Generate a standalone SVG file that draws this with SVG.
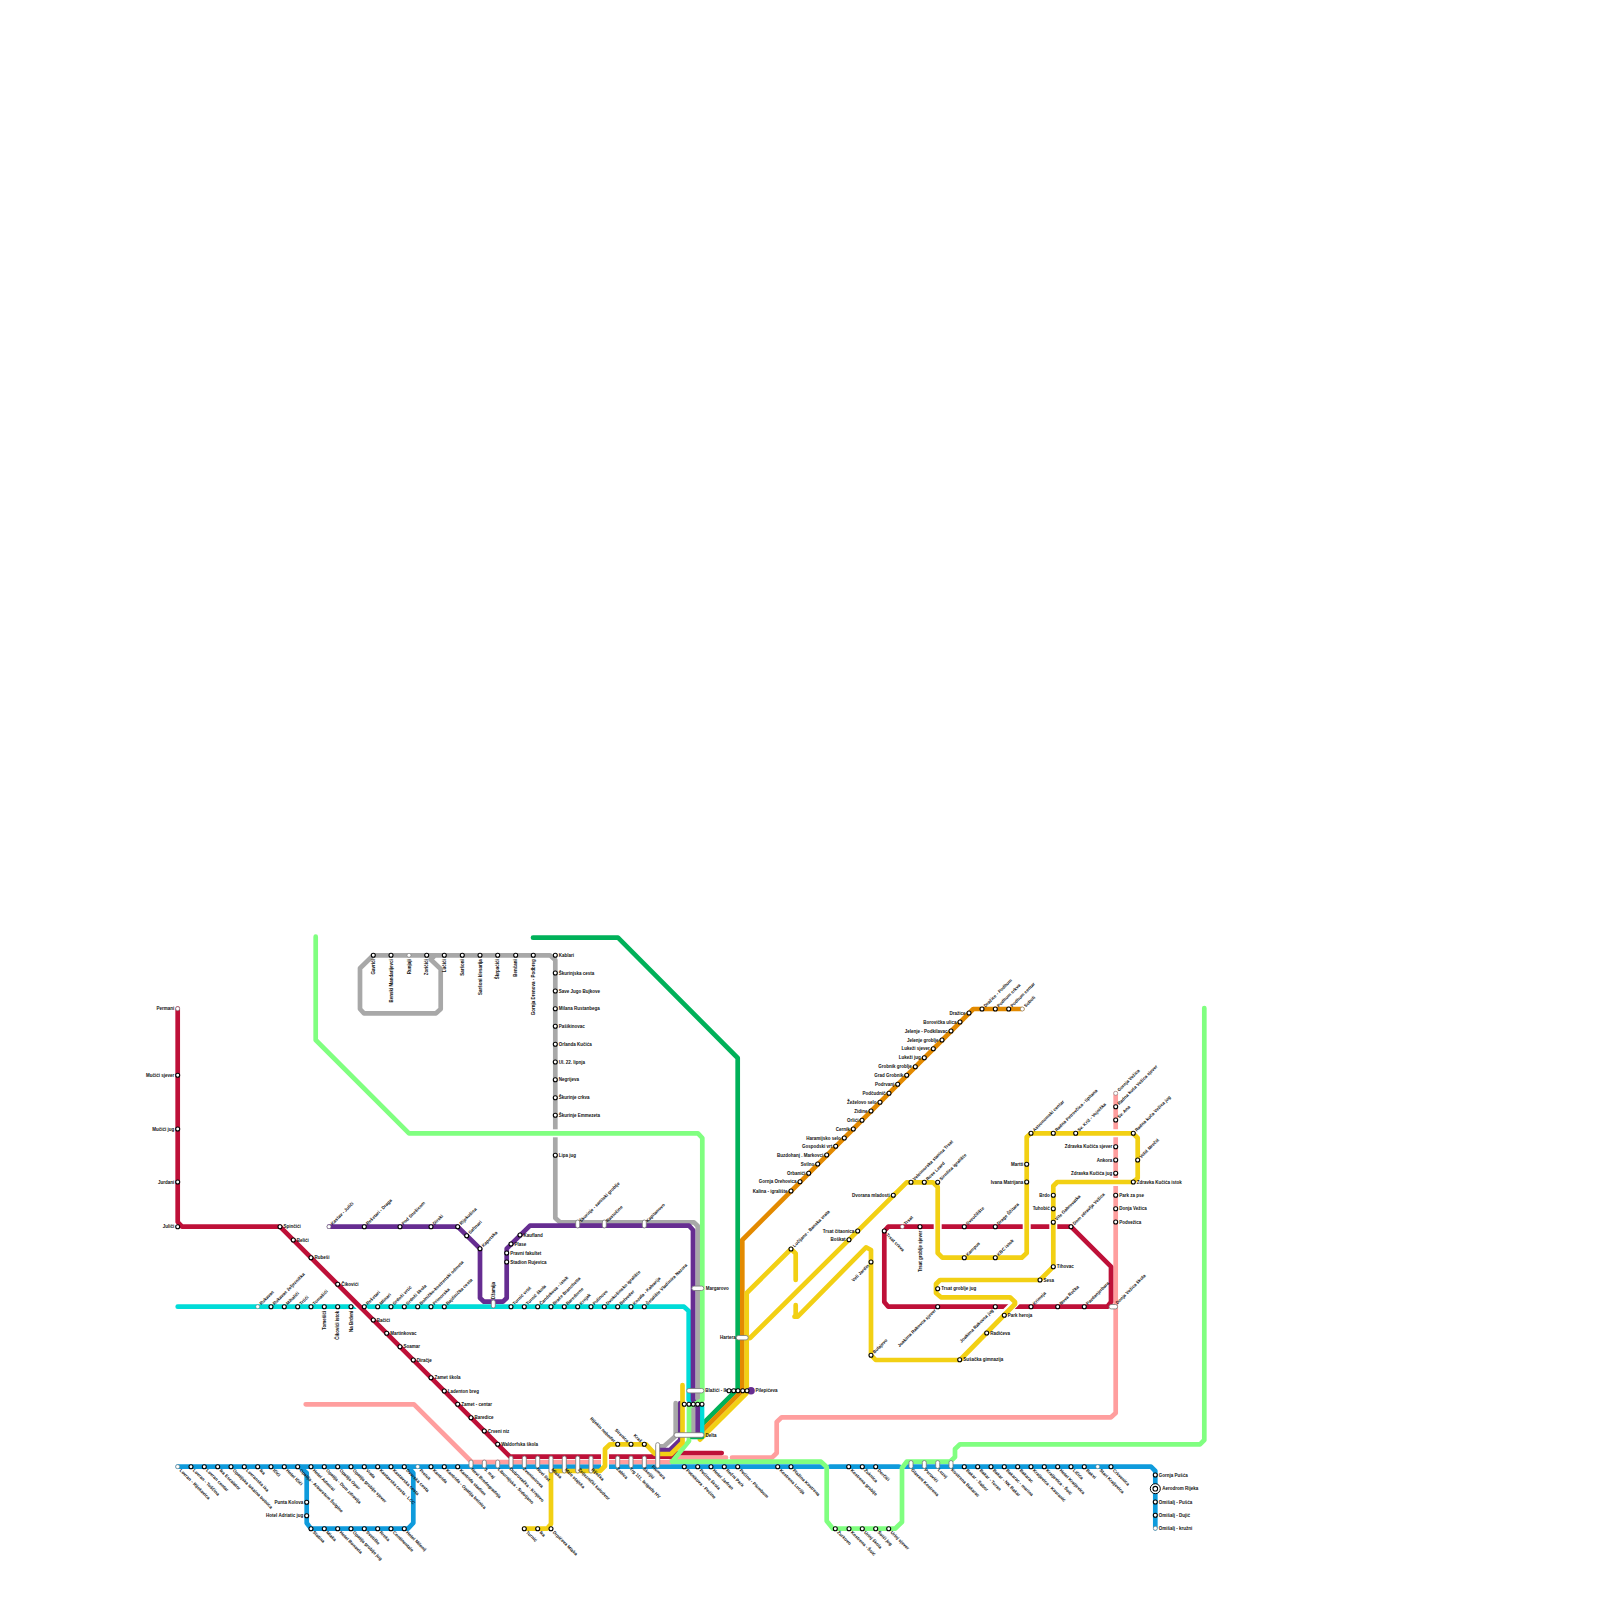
<svg xmlns="http://www.w3.org/2000/svg" width="1600" height="1600" viewBox="0 0 1600 1600">
<style>
text{font-family:"Liberation Sans",Arial,sans-serif;font-size:4.5px;font-weight:700;fill:#111}
.ln{fill:none;stroke-width:4.7;stroke-linejoin:round;stroke-linecap:round}
.h{fill:none;stroke:#fff;stroke-width:8}
.red{stroke:#BE1038}.cy{stroke:#00DCD8}.li{stroke:#80FF80}.gr{stroke:#A8A8A8}.pu{stroke:#662D91}.or{stroke:#E38A00}.ye{stroke:#F2D014}.bl{stroke:#0F9BDC}.pk{stroke:#FF9E9E}.gn{stroke:#00B159}
.s{fill:#fff;stroke:#000;stroke-width:1.1}
.w{fill:#fff;stroke:#666;stroke-width:.5}
.p{fill:#fff;stroke:#777;stroke-width:.8}
.ur{transform:translate(3.5px,-1.5px) rotate(-45deg)}
.dr{transform:translate(1.5px,4px) rotate(45deg)}
.ul{text-anchor:end;transform:translate(-4px,-1.5px) rotate(45deg)}
.dl{text-anchor:end;transform:translate(-1.5px,4px) rotate(-45deg)}
.r{transform:translate(3.5px,1.7px)}
.l{text-anchor:end;transform:translate(-3.5px,1.7px)}
.b{text-anchor:end;transform:translate(1.7px,4px) rotate(-90deg)}
.a{transform:translate(1.7px,-5px) rotate(-90deg)}
</style>
<g id="connectors">
<path class="ln gn" d="M533 937.7H618L737.7 1058V1389L700 1426.7"/>
<path class="ln or" d="M1022.3 1009H973.3L742.3 1240V1390.7L700 1433"/>
<path class="ln ye" d="M795.7 1280V1253.5L791 1249L746.7 1293V1393L700 1439.7"/>
<path class="ln bl" d="M177.7 1466.7H823M830 1466.7H899M905 1466.7H1151L1155.3 1471V1528.3"/>
<path class="ln bl" d="M300 1466.7L306.7 1473V1523L311 1528.7H408L413.3 1523V1473L408 1466.7"/>
<path class="ln pk" d="M305.7 1404.3H414L471.7 1462H670L676 1457.7H726M732 1457.7H772L776.7 1453V1422L781.7 1417.3H1111L1115.7 1413V1093.3"/>
<path class="ln cy" d="M177.7 1306.7H684L688.7 1311V1400L702 1407V1435"/>
<path class="ln gr" d="M435 955.3H373.3L360 968.3V1009L364 1013.3H436L440.7 1009V969L430.7 959.5L435 955.3H550L555.3 960V1218L560 1222.3H694L697.7 1226V1400L693.3 1407V1435"/>
<path class="ln gr" d="M658 1446.3H664L675.7 1436V1403"/>
<path class="ln pu" d="M329 1226.7H457.7L480 1248.7V1298L484 1301.7H503L506.7 1298V1248.7L530 1225.7H689L693 1230V1400L697.7 1407V1435"/>
<path class="ln pu" d="M658 1450H670L680.3 1440V1403"/>
<path class="h" d="M352 1298.7L366 1312.7"/>
<path class="ln red" d="M177.7 1008.7V1222L182 1226.7H280L510 1456.7H672L677 1453H721.7"/>
<path class="ln red" d="M1071 1226.7H888.3L884.3 1231V1302L888.3 1306.7H1107.3L1111 1302V1266.7L1071 1226.7"/>
<path class="h" d="M550 1133.3H561"/>
<path class="ln li" d="M315.7 936.7V1040L409 1133.3H698L702.3 1138V1400L689 1407V1441L672 1461.7H821L826.7 1467V1521L833 1528.7H895L902 1522V1468L906.7 1461.7H950L955 1457V1449L960 1444.3H1200L1204.3 1440V1008"/>
<path class="ln gn" d="M692 1437H702"/>
<path class="h" d="M605 1452V1473M937.7 1221V1232M1026.7 1221V1232M1053.3 1221V1232M1018 1300L1005 1313M1110 1133.3H1121M1110 1182H1121"/>
<path class="ln ye" d="M524.3 1528.7H547L551 1524V1471H600L605 1466V1449L610 1444.3H646L655 1454H671L682.5 1442.5V1385"/>
<path class="ln ye" d="M750 1338L906.7 1182.3H933L937.7 1187V1253L942.3 1257.7H1021.7L1026.7 1253V1137L1031 1133.3H1133L1137.7 1138V1178L1133.3 1182H1057.3L1053.3 1186V1266.7L1040 1280H940L936 1284V1293L941 1297.3H1010L1015 1302V1304L960 1360H875.7L871 1355V1250L866 1247.3L797.7 1316.7H794.5L795.7 1315V1305"/>
</g>
<g id="n0" transform="translate(751 1390.7)"><circle r="3.8" fill="#662D91"/><text class="r" x="1">Pilepićeva</text></g>
<g id="n1" transform="translate(177.7 1008.7)"><circle class="w" r="2"/><text class="l">Permani</text></g>
<g id="n2" transform="translate(177.7 1075.3)"><circle class="s" r="2"/><text class="l">Mučići sjever</text></g>
<g id="n3" transform="translate(177.7 1129)"><circle class="s" r="2"/><text class="l">Mučići jug</text></g>
<g id="n4" transform="translate(177.7 1182)"><circle class="s" r="2"/><text class="l">Jurdani</text></g>
<g id="n5" transform="translate(177.7 1226.7)"><circle class="s" r="2"/><text class="l">Juliči</text></g>
<g id="n6" transform="translate(280 1226.7)"><circle class="s" r="2"/><text class="r">Spinčići</text></g>
<g id="n7" transform="translate(293.3 1240)"><circle class="s" r="2"/><text class="r">Belići</text></g>
<g id="n8" transform="translate(311 1257.7)"><circle class="s" r="2"/><text class="r">Rubeši</text></g>
<g id="n9" transform="translate(337.7 1284.3)"><circle class="s" r="2"/><text class="r">Čikovići</text></g>
<g id="n10" transform="translate(373.3 1320)"><circle class="s" r="2"/><text class="r">Bačići</text></g>
<g id="n11" transform="translate(386.7 1333.3)"><circle class="s" r="2"/><text class="r">Martinkovac</text></g>
<g id="n12" transform="translate(400 1346.7)"><circle class="s" r="2"/><text class="r">Soamar</text></g>
<g id="n13" transform="translate(413.3 1360)"><circle class="s" r="2"/><text class="r">Diračje</text></g>
<g id="n14" transform="translate(431 1377.7)"><circle class="s" r="2"/><text class="r">Zamet škola</text></g>
<g id="n15" transform="translate(444.3 1391)"><circle class="s" r="2"/><text class="r">Ladenton breg</text></g>
<g id="n16" transform="translate(457.7 1404.3)"><circle class="s" r="2"/><text class="r">Zamet - centar</text></g>
<g id="n17" transform="translate(471 1417.7)"><circle class="s" r="2"/><text class="r">Baredice</text></g>
<g id="n18" transform="translate(484.3 1431)"><circle class="s" r="2"/><text class="r">Crveni niz</text></g>
<g id="n19" transform="translate(497.7 1444.3)"><circle class="s" r="2"/><text class="r">Waldorfska škola</text></g>
<g id="n20" transform="translate(329 1226.7)"><circle class="w" r="2"/><text class="ur">Kastav - Juliči</text></g>
<g id="n21" transform="translate(364.3 1226.7)"><circle class="s" r="2"/><text class="ur">Rešetari - Draga</text></g>
<g id="n22" transform="translate(400 1226.7)"><circle class="s" r="2"/><text class="ur">Pod Snešicom</text></g>
<g id="n23" transform="translate(431 1226.7)"><circle class="s" r="2"/><text class="ur">Dirski</text></g>
<g id="n24" transform="translate(457.7 1226.7)"><circle class="s" r="2"/><text class="ur">Rijekušica</text></g>
<g id="n25" transform="translate(466.7 1235.7)"><circle class="s" r="2"/><text class="ur">Saftnari</text></g>
<g id="n26" transform="translate(480 1248.7)"><circle class="s" r="2"/><text class="ur">Kapetska</text></g>
<g id="n27" transform="translate(520 1235)"><circle class="s" r="2"/><text class="r">Kaufland</text></g>
<g id="n28" transform="translate(511 1244)"><circle class="s" r="2"/><text class="r">Plase</text></g>
<g id="n29" transform="translate(506.7 1253)"><circle class="s" r="2"/><text class="r">Pravni fakultet</text></g>
<g id="n30" transform="translate(506.7 1262)"><circle class="s" r="2"/><text class="r">Stadion Rujevica</text></g>
<g id="n31" transform="translate(493.3 1304)"><rect class="p" x="-2" y="-4" width="4" height="8" rx="2"/><text class="a">Džamija</text></g>
<g id="n32" transform="translate(257.7 1306.7)"><circle class="w" r="2"/><text class="ur">Rukavac</text></g>
<g id="n33" transform="translate(271 1306.7)"><circle class="s" r="2"/><text class="ur">Rukavac željeznička</text></g>
<g id="n34" transform="translate(284.3 1306.7)"><circle class="s" r="2"/><text class="ur">Mihalići</text></g>
<g id="n35" transform="translate(297.7 1306.7)"><circle class="s" r="2"/><text class="ur">Trtići</text></g>
<g id="n36" transform="translate(311 1306.7)"><circle class="s" r="2"/><text class="ur">Tomašići</text></g>
<g id="n37" transform="translate(324.3 1306.7)"><circle class="s" r="2"/><text class="b">Tomešići</text></g>
<g id="n38" transform="translate(337.7 1306.7)"><circle class="s" r="2"/><text class="b">Čikovići istok</text></g>
<g id="n39" transform="translate(351 1306.7)"><circle class="s" r="2"/><text class="b">Na Brdeni</text></g>
<g id="n40" transform="translate(364.3 1306.7)"><circle class="s" r="2"/><text class="ur">Rešetari</text></g>
<g id="n41" transform="translate(377.7 1306.7)"><circle class="s" r="2"/><text class="ur">Mlinari</text></g>
<g id="n42" transform="translate(391 1306.7)"><circle class="s" r="2"/><text class="ur">Srdoči vrtić</text></g>
<g id="n43" transform="translate(404.3 1306.7)"><circle class="s" r="2"/><text class="ur">Srdoči škola</text></g>
<g id="n44" transform="translate(417.7 1306.7)"><circle class="s" r="2"/><text class="ur">Bolničko-kostrenski odmeta</text></g>
<g id="n45" transform="translate(431 1306.7)"><circle class="s" r="2"/><text class="ur">Primorska</text></g>
<g id="n46" transform="translate(444.3 1306.7)"><circle class="s" r="2"/><text class="ur">Bajdinička cesta</text></g>
<g id="n47" transform="translate(511 1306.7)"><circle class="s" r="2"/><text class="ur">Turnić vrtić</text></g>
<g id="n48" transform="translate(524.3 1306.7)"><circle class="s" r="2"/><text class="ur">Turnić škola</text></g>
<g id="n49" transform="translate(537.7 1306.7)"><circle class="s" r="2"/><text class="ur">Čandekova - istok</text></g>
<g id="n50" transform="translate(551 1306.7)"><circle class="s" r="2"/><text class="ur">Braće Branchetta</text></g>
<g id="n51" transform="translate(564.3 1306.7)"><circle class="s" r="2"/><text class="ur">Baredorne</text></g>
<g id="n52" transform="translate(577.7 1306.7)"><circle class="s" r="2"/><text class="ur">Krnjak</text></g>
<g id="n53" transform="translate(591 1306.7)"><circle class="s" r="2"/><text class="ur">Pulinovo</text></g>
<g id="n54" transform="translate(604.3 1306.7)"><circle class="s" r="2"/><text class="ur">Dvokošinsko igralište</text></g>
<g id="n55" transform="translate(617.7 1306.7)"><circle class="s" r="2"/><text class="ur">Belveder</text></g>
<g id="n56" transform="translate(631 1306.7)"><circle class="s" r="2"/><text class="ur">Kozala - Kalvarija</text></g>
<g id="n57" transform="translate(644.3 1306.7)"><circle class="s" r="2"/><text class="ur">Šetalište Vladimira Nazora</text></g>
<g id="n58" transform="translate(577.7 1224)"><rect class="p" x="-2" y="-4" width="4" height="8" rx="2"/><text class="ur">Škurinje - sanitski groblje</text></g>
<g id="n59" transform="translate(604.3 1224)"><rect class="p" x="-2" y="-4" width="4" height="8" rx="2"/><text class="ur">Rastočine</text></g>
<g id="n60" transform="translate(644.3 1224)"><rect class="p" x="-2" y="-4" width="4" height="8" rx="2"/><text class="ur">Kapitanovo</text></g>
<g id="n61" transform="translate(697.8 1288.3)"><rect class="p" x="-6" y="-2.2" width="12" height="4.4" rx="2.2"/><text class="r" x="4.5">Margarovo</text></g>
<g id="n62" transform="translate(742.2 1337.7)"><rect class="p" x="-6" y="-2.2" width="12" height="4.4" rx="2.2"/><text class="l" x="-3">Hartera</text></g>
<g id="n63" transform="translate(695.3 1390.7)"><rect class="p" x="-8.6" y="-2.2" width="17.2" height="4.4" rx="2.2"/><text class="r" x="6.5">Blažići - Ikea</text></g>
<g id="n64" transform="translate(689 1435)"><rect class="p" x="-15" y="-2.3" width="30" height="4.6" rx="2.3"/><text class="r" x="13">Delta</text></g>
<g id="n65" transform="translate(729 1390.7)"><circle class="s" r="2"/></g>
<g id="n66" transform="translate(733.7 1390.7)"><circle class="s" r="2"/></g>
<g id="n67" transform="translate(738 1390.7)"><circle class="s" r="2"/></g>
<g id="n68" transform="translate(742.7 1390.7)"><circle class="s" r="2"/></g>
<g id="n69" transform="translate(747 1390.7)"><circle class="s" r="2"/></g>
<g id="n70" transform="translate(684.3 1404.3)"><circle class="s" r="2"/></g>
<g id="n71" transform="translate(689 1404.3)"><circle class="s" r="2"/></g>
<g id="n72" transform="translate(693.3 1404.3)"><circle class="s" r="2"/></g>
<g id="n73" transform="translate(697.7 1404.3)"><circle class="s" r="2"/></g>
<g id="n74" transform="translate(702 1404.3)"><circle class="s" r="2"/></g>
<g id="n75" transform="translate(373.3 955.3)"><circle class="s" r="2"/><text class="b">Gavrići</text></g>
<g id="n76" transform="translate(391 955.3)"><circle class="s" r="2"/><text class="b">Benski Mandarijevci</text></g>
<g id="n77" transform="translate(409 955.3)"><circle class="w" r="2"/><text class="b">Runjaji</text></g>
<g id="n78" transform="translate(426.7 955.3)"><circle class="s" r="2"/><text class="b">Zoričići</text></g>
<g id="n79" transform="translate(444.3 955.3)"><circle class="s" r="2"/><text class="b">Lučići</text></g>
<g id="n80" transform="translate(462.3 955.3)"><circle class="s" r="2"/><text class="b">Saršoni</text></g>
<g id="n81" transform="translate(480 955.3)"><circle class="s" r="2"/><text class="b">Saršoni klesarija</text></g>
<g id="n82" transform="translate(497.7 955.3)"><circle class="s" r="2"/><text class="b">Škrpaćići</text></g>
<g id="n83" transform="translate(515.7 955.3)"><circle class="s" r="2"/><text class="b">Benčani</text></g>
<g id="n84" transform="translate(533.3 955.3)"><circle class="s" r="2"/><text class="b">Gornja Drenova - Podbreg</text></g>
<g id="n85" transform="translate(555.3 955.3)"><circle class="s" r="2"/><text class="r">Kablari</text></g>
<g id="n86" transform="translate(555.3 973)"><circle class="s" r="2"/><text class="r">Škurinjska cesta</text></g>
<g id="n87" transform="translate(555.3 991)"><circle class="s" r="2"/><text class="r">Save Jugo Bujkove</text></g>
<g id="n88" transform="translate(555.3 1008.7)"><circle class="s" r="2"/><text class="r">Milana Rustanbega</text></g>
<g id="n89" transform="translate(555.3 1026.3)"><circle class="s" r="2"/><text class="r">Pašikinovac</text></g>
<g id="n90" transform="translate(555.3 1044.3)"><circle class="s" r="2"/><text class="r">Orlanda Kučića</text></g>
<g id="n91" transform="translate(555.3 1062)"><circle class="s" r="2"/><text class="r">Ul. 22. lipnja</text></g>
<g id="n92" transform="translate(555.3 1079.7)"><circle class="s" r="2"/><text class="r">Negrijeva</text></g>
<g id="n93" transform="translate(555.3 1097.7)"><circle class="s" r="2"/><text class="r">Škurinje crkva</text></g>
<g id="n94" transform="translate(555.3 1115.3)"><circle class="s" r="2"/><text class="r">Škurinje Emmezeta</text></g>
<g id="n95" transform="translate(555.3 1155.3)"><circle class="s" r="2"/><text class="r">Lipa jug</text></g>
<g id="n96" transform="translate(177.7 1466.7)"><circle class="w" r="2"/><text class="dr">Lovran - Rijekavica</text></g>
<g id="n97" transform="translate(191 1466.7)"><circle class="s" r="2"/><text class="dr">Lovran - Tuščina</text></g>
<g id="n98" transform="translate(204.3 1466.7)"><circle class="s" r="2"/><text class="dr">Lovran centar</text></g>
<g id="n99" transform="translate(217.7 1466.7)"><circle class="s" r="2"/><text class="dr">Ika Escalator</text></g>
<g id="n100" transform="translate(231 1466.7)"><circle class="s" r="2"/><text class="dr">Opatijska lokalna bolnica</text></g>
<g id="n101" transform="translate(244.3 1466.7)"><circle class="s" r="2"/><text class="dr">Lovranska ika</text></g>
<g id="n102" transform="translate(257.7 1466.7)"><circle class="s" r="2"/><text class="dr">Ika</text></g>
<g id="n103" transform="translate(271 1466.7)"><circle class="s" r="2"/><text class="dr">Ičići</text></g>
<g id="n104" transform="translate(284.3 1466.7)"><circle class="s" r="2"/><text class="dr">Hotel Ičići</text></g>
<g id="n105" transform="translate(297.7 1466.7)"><circle class="s" r="2"/><text class="dr">Opatija - Arboretum Šulgine</text></g>
<g id="n106" transform="translate(311 1466.7)"><circle class="s" r="2"/><text class="dr">Hotel Admiral</text></g>
<g id="n107" transform="translate(324.3 1466.7)"><circle class="s" r="2"/><text class="dr">Opatija - Dom zdravlja</text></g>
<g id="n108" transform="translate(337.7 1466.7)"><circle class="s" r="2"/><text class="dr">Opatija Opor</text></g>
<g id="n109" transform="translate(351 1466.7)"><circle class="s" r="2"/><text class="dr">Opatija groblje sjever</text></g>
<g id="n110" transform="translate(364.3 1466.7)"><circle class="s" r="2"/><text class="dr">Vrata</text></g>
<g id="n111" transform="translate(377.7 1466.7)"><circle class="s" r="2"/><text class="dr">Kastavska cesta - LCC</text></g>
<g id="n112" transform="translate(391 1466.7)"><circle class="s" r="2"/><text class="dr">Kastavska cesta</text></g>
<g id="n113" transform="translate(404.3 1466.7)"><circle class="s" r="2"/><text class="dr">Dvorska cesta</text></g>
<g id="n114" transform="translate(417.7 1466.7)"><circle class="w" r="2"/><text class="dr">Preluk</text></g>
<g id="n115" transform="translate(431 1466.7)"><circle class="s" r="2"/><text class="dr">Kantrida</text></g>
<g id="n116" transform="translate(444.3 1466.7)"><circle class="s" r="2"/><text class="dr">Kantrida - Opatija bolnica</text></g>
<g id="n117" transform="translate(457.7 1466.7)"><circle class="s" r="2"/><text class="dr">Kantrida stadion</text></g>
<g id="n118" transform="translate(306.7 1502.3)"><circle class="s" r="2"/><text class="l">Punta Kolova</text></g>
<g id="n119" transform="translate(306.7 1515.7)"><circle class="s" r="2"/><text class="l">Hotel Adriatic jug</text></g>
<g id="n120" transform="translate(311 1528.7)"><circle class="s" r="2"/><text class="dr">Slatina</text></g>
<g id="n121" transform="translate(324.3 1528.7)"><circle class="s" r="2"/><text class="dr">Mlaka</text></g>
<g id="n122" transform="translate(337.7 1528.7)"><circle class="s" r="2"/><text class="dr">Hotel Bonavia</text></g>
<g id="n123" transform="translate(351 1528.7)"><circle class="s" r="2"/><text class="dr">Opatija groblje jug</text></g>
<g id="n124" transform="translate(364.3 1528.7)"><circle class="s" r="2"/><text class="dr">Svetište</text></g>
<g id="n125" transform="translate(377.7 1528.7)"><circle class="s" r="2"/><text class="dr">Rreka</text></g>
<g id="n126" transform="translate(391 1528.7)"><circle class="s" r="2"/><text class="dr">Continentale</text></g>
<g id="n127" transform="translate(404.3 1528.7)"><circle class="s" r="2"/><text class="dr">Hotel Milenij</text></g>
<g id="n128" transform="translate(471 1464)"><rect class="p" x="-2" y="-4" width="4" height="8" rx="2"/><text class="dr" y="2.5">Novi Brodogradnja</text></g>
<g id="n129" transform="translate(484.3 1464)"><rect class="p" x="-2" y="-4" width="4" height="8" rx="2"/><text class="dr" y="2.5">3. maj</text></g>
<g id="n130" transform="translate(497.7 1464)"><rect class="p" x="-2" y="-4" width="4" height="8" rx="2"/><text class="dr" y="2.5">Liburnijska - Srdoljano</text></g>
<g id="n131" transform="translate(511 1462)"><rect class="p" x="-2" y="-6" width="4" height="12" rx="2"/><text class="dr" y="4.5">Dubrovačka - Krnjevo</text></g>
<g id="n132" transform="translate(524.3 1462)"><rect class="p" x="-2" y="-6" width="4" height="12" rx="2"/><text class="dr" y="4.5">Zvonimirova</text></g>
<g id="n133" transform="translate(537.7 1462)"><rect class="p" x="-2" y="-6" width="4" height="12" rx="2"/><text class="dr" y="4.5">Novi list</text></g>
<g id="n134" transform="translate(551 1464.5)"><rect class="p" x="-2" y="-8.5" width="4" height="17" rx="2"/><text class="dr" y="2">Mlaka</text></g>
<g id="n135" transform="translate(564.3 1464.5)"><rect class="p" x="-2" y="-8.5" width="4" height="17" rx="2"/><text class="dr" y="2">Male stajska</text></g>
<g id="n136" transform="translate(577.7 1464.5)"><rect class="p" x="-2" y="-8.5" width="4" height="17" rx="2"/><text class="dr" y="2">Željeznički kolodvor</text></g>
<g id="n137" transform="translate(591 1464.5)"><rect class="p" x="-2" y="-8.5" width="4" height="17" rx="2"/><text class="dr" y="2">Riječka</text></g>
<g id="n138" transform="translate(617.7 1462)"><rect class="p" x="-2" y="-6" width="4" height="12" rx="2"/><text class="dr" y="4.5">Žabica</text></g>
<g id="n139" transform="translate(631 1462)"><rect class="p" x="-2" y="-6" width="4" height="12" rx="2"/><text class="dr" y="4.5">Trg 111. brigade HV</text></g>
<g id="n140" transform="translate(644.3 1462)"><rect class="p" x="-2" y="-6" width="4" height="12" rx="2"/><text class="dr" y="4.5">Školjić</text></g>
<g id="n141" transform="translate(657.7 1455.3)"><rect class="p" x="-2" y="-12.7" width="4" height="25.4" rx="2"/><text class="dr" y="11">Fiumara</text></g>
<g id="n142" transform="translate(524.3 1528.7)"><circle class="s" r="2"/><text class="dr">Turnić</text></g>
<g id="n143" transform="translate(537.7 1528.7)"><circle class="s" r="2"/><text class="dr">Ika</text></g>
<g id="n144" transform="translate(551 1528.7)"><circle class="s" r="2"/><text class="dr">Drpićeva Mlaka</text></g>
<g id="n145" transform="translate(617.7 1444.3)"><circle class="s" r="2"/><text class="ul">Rijekin neboder</text></g>
<g id="n146" transform="translate(631 1444.3)"><circle class="s" r="2"/><text class="ul">Sirenica</text></g>
<g id="n147" transform="translate(644.3 1444.3)"><circle class="s" r="2"/><text class="ul">Kraš</text></g>
<g id="n148" transform="translate(684.3 1466.7)"><circle class="s" r="2"/><text class="dr">Potnikova - Pećine</text></g>
<g id="n149" transform="translate(697.7 1466.7)"><circle class="s" r="2"/><text class="dr">Pećine škola</text></g>
<g id="n150" transform="translate(711 1466.7)"><circle class="s" r="2"/><text class="dr">Hotel Jadran</text></g>
<g id="n151" transform="translate(724.3 1466.7)"><circle class="s" r="2"/><text class="dr">Rečni Park</text></g>
<g id="n152" transform="translate(737.7 1466.7)"><circle class="s" r="2"/><text class="dr">Pećine - Plumbum</text></g>
<g id="n153" transform="translate(777.7 1466.7)"><circle class="s" r="2"/><text class="dr">Kostrena Lucija</text></g>
<g id="n154" transform="translate(791 1466.7)"><circle class="s" r="2"/><text class="dr">Plažina Kostrena</text></g>
<g id="n155" transform="translate(848.7 1466.7)"><circle class="s" r="2"/><text class="dr">Kostrena groblje</text></g>
<g id="n156" transform="translate(862.3 1466.7)"><circle class="s" r="2"/><text class="dr">Žuknica</text></g>
<g id="n157" transform="translate(875.7 1466.7)"><circle class="s" r="2"/><text class="dr">Dorčići</text></g>
<g id="n158" transform="translate(835.3 1528.7)"><circle class="s" r="2"/><text class="dr">Žurkovo</text></g>
<g id="n159" transform="translate(849 1528.7)"><circle class="s" r="2"/><text class="dr">Kostrena - Šoić</text></g>
<g id="n160" transform="translate(862.3 1528.7)"><circle class="s" r="2"/><text class="dr">Urinj škola</text></g>
<g id="n161" transform="translate(875.7 1528.7)"><circle class="s" r="2"/><text class="dr">Šoići jug</text></g>
<g id="n162" transform="translate(888.7 1528.7)"><circle class="s" r="2"/><text class="dr">Urinj sjever</text></g>
<g id="n163" transform="translate(911 1464.5)"><rect class="p" x="-2" y="-4" width="4" height="8" rx="2"/><text class="dr" y="2.5">Glavani Kostrena</text></g>
<g id="n164" transform="translate(924.3 1464.5)"><rect class="p" x="-2" y="-4" width="4" height="8" rx="2"/><text class="dr" y="2.5">Perovići</text></g>
<g id="n165" transform="translate(937.7 1464.5)"><rect class="p" x="-2" y="-4" width="4" height="8" rx="2"/><text class="dr" y="2.5">Luzuj</text></g>
<g id="n166" transform="translate(951 1464.5)"><rect class="p" x="-2" y="-4" width="4" height="8" rx="2"/><text class="dr" y="2.5">Kostrena Bakarac</text></g>
<g id="n167" transform="translate(964.3 1466.7)"><circle class="s" r="2"/><text class="dr">Bakar - Sabor</text></g>
<g id="n168" transform="translate(977.7 1466.7)"><circle class="s" r="2"/><text class="dr">Bakar - Turan</text></g>
<g id="n169" transform="translate(991 1466.7)"><circle class="s" r="2"/><text class="dr">Bakar - NK Bakar</text></g>
<g id="n170" transform="translate(1004.3 1466.7)"><circle class="s" r="2"/><text class="dr">Bakarac - marina</text></g>
<g id="n171" transform="translate(1017.7 1466.7)"><circle class="s" r="2"/><text class="dr">Bakarac</text></g>
<g id="n172" transform="translate(1031 1466.7)"><circle class="s" r="2"/><text class="dr">Kraljevica - Kavranić</text></g>
<g id="n173" transform="translate(1044.3 1466.7)"><circle class="s" r="2"/><text class="dr">Kraljevica - Šoić</text></g>
<g id="n174" transform="translate(1057.7 1466.7)"><circle class="s" r="2"/><text class="dr">Hotel Kraljevica</text></g>
<g id="n175" transform="translate(1071 1466.7)"><circle class="s" r="2"/><text class="dr">Ličića</text></g>
<g id="n176" transform="translate(1084.3 1466.7)"><circle class="s" r="2"/><text class="dr">Bakvi</text></g>
<g id="n177" transform="translate(1097.7 1466.7)"><circle class="w" r="2"/><text class="dr">Stari Kraljevica</text></g>
<g id="n178" transform="translate(1111 1466.7)"><circle class="s" r="2"/><text class="dr">Crkvenica</text></g>
<g id="n179" transform="translate(1155.3 1475)"><circle class="s" r="2"/><text class="r">Gornja Pušća</text></g>
<g id="n180" transform="translate(1155.3 1488.7)"><circle r="5" fill="#fff" stroke="#000" stroke-width="1"/><circle class="s" r="2.3"/><text class="r" x="3.5">Aerodrom Rijeka</text></g>
<g id="n181" transform="translate(1155.3 1502)"><circle class="s" r="2"/><text class="r">Omišalj - Pušća</text></g>
<g id="n182" transform="translate(1155.3 1515.3)"><circle class="s" r="2"/><text class="r">Omišalj - Dujić</text></g>
<g id="n183" transform="translate(1155.3 1528.3)"><circle class="w" r="2"/><text class="r">Omišalj - kružni</text></g>
<g id="n184" transform="translate(982 1009)"><circle class="s" r="2"/><text class="ur">Dražice - Podhum</text></g>
<g id="n185" transform="translate(995.3 1009)"><circle class="s" r="2"/><text class="ur">Podhum crkva</text></g>
<g id="n186" transform="translate(1008.7 1009)"><circle class="s" r="2"/><text class="ur">Podhum centar</text></g>
<g id="n187" transform="translate(1022.3 1009)"><circle class="w" r="2"/><text class="ur">Soboli</text></g>
<g id="n188" transform="translate(969 1013)"><circle class="s" r="2"/><text class="l">Dražice</text></g>
<g id="n189" transform="translate(960 1022)"><circle class="s" r="2"/><text class="l">Borovička ulica</text></g>
<g id="n190" transform="translate(951 1031)"><circle class="s" r="2"/><text class="l">Jelenje - Podkilavac</text></g>
<g id="n191" transform="translate(942 1040)"><circle class="s" r="2"/><text class="l">Jelenje groblje</text></g>
<g id="n192" transform="translate(933.3 1048.7)"><circle class="s" r="2"/><text class="l">Lukeži sjever</text></g>
<g id="n193" transform="translate(924.3 1057.7)"><circle class="s" r="2"/><text class="l">Lukeži jug</text></g>
<g id="n194" transform="translate(915.3 1066.7)"><circle class="s" r="2"/><text class="l">Grobnik groblje</text></g>
<g id="n195" transform="translate(906.7 1075.3)"><circle class="s" r="2"/><text class="l">Grad Grobnik</text></g>
<g id="n196" transform="translate(897.7 1084.3)"><circle class="s" r="2"/><text class="l">Podrvanj</text></g>
<g id="n197" transform="translate(889 1093.3)"><circle class="s" r="2"/><text class="l">Podčudnič</text></g>
<g id="n198" transform="translate(880 1102.3)"><circle class="s" r="2"/><text class="l">Žeželovo selo</text></g>
<g id="n199" transform="translate(871 1111)"><circle class="s" r="2"/><text class="l">Zidine</text></g>
<g id="n200" transform="translate(862 1120.3)"><circle class="s" r="2"/><text class="l">Orlići</text></g>
<g id="n201" transform="translate(853.3 1129)"><circle class="s" r="2"/><text class="l">Cernik</text></g>
<g id="n202" transform="translate(844.3 1138)"><circle class="s" r="2"/><text class="l">Haramijsko selo</text></g>
<g id="n203" transform="translate(835.7 1146.3)"><circle class="s" r="2"/><text class="l">Gospodski vrt</text></g>
<g id="n204" transform="translate(826.7 1155)"><circle class="s" r="2"/><text class="l">Buzdohanj . Markovci</text></g>
<g id="n205" transform="translate(817.7 1164)"><circle class="s" r="2"/><text class="l">Svilno</text></g>
<g id="n206" transform="translate(808.7 1173.3)"><circle class="s" r="2"/><text class="l">Orbanići</text></g>
<g id="n207" transform="translate(800 1181.7)"><circle class="s" r="2"/><text class="l">Gornja Orehovica</text></g>
<g id="n208" transform="translate(791 1191)"><circle class="s" r="2"/><text class="l">Kalina - igralište</text></g>
<g id="n209" transform="translate(791 1249)"><circle class="s" r="2"/><text class="ur">Lučijane - Banska vrata</text></g>
<g id="n210" transform="translate(893.3 1195.3)"><circle class="s" r="2"/><text class="l">Dvorana mladosti</text></g>
<g id="n211" transform="translate(857.7 1231)"><circle class="s" r="2"/><text class="l">Trsat čitaonica</text></g>
<g id="n212" transform="translate(849 1239.7)"><circle class="s" r="2"/><text class="l">Boškat</text></g>
<g id="n213" transform="translate(911 1182.3)"><circle class="s" r="2"/><text class="ur">Veleimorska stanica Trsat</text></g>
<g id="n214" transform="translate(924.3 1182.3)"><circle class="s" r="2"/><text class="ur">Rose Leard</text></g>
<g id="n215" transform="translate(937.7 1182.3)"><circle class="s" r="2"/><text class="ur">Sirmlica igralište</text></g>
<g id="n216" transform="translate(884.3 1231)"><circle class="s" r="2"/><text class="dr">Trsat crkva</text></g>
<g id="n217" transform="translate(902.3 1226.7)"><circle class="w" r="2"/><text class="ur">Trsat</text></g>
<g id="n218" transform="translate(920 1226.7)"><circle class="s" r="2"/><text class="b">Trsat groblje sjever</text></g>
<g id="n219" transform="translate(964.3 1226.7)"><circle class="s" r="2"/><text class="ur">Sveučilište</text></g>
<g id="n220" transform="translate(995.3 1226.7)"><circle class="s" r="2"/><text class="ur">Drage Ščitara</text></g>
<g id="n221" transform="translate(964.3 1257.7)"><circle class="s" r="2"/><text class="ur">Kampus</text></g>
<g id="n222" transform="translate(995.3 1257.7)"><circle class="s" r="2"/><text class="ur">KBC istok</text></g>
<g id="n223" transform="translate(937.7 1288.7)"><circle class="s" r="2"/><text class="r">Trsat groblje jug</text></g>
<g id="n224" transform="translate(871 1262)"><circle class="s" r="2"/><text class="dl">Veli Jardin</text></g>
<g id="n225" transform="translate(871 1355.3)"><circle class="s" r="2"/><text class="ur">Bulajevo</text></g>
<g id="n226" transform="translate(959.7 1359.7)"><circle class="s" r="2"/><text class="r">Sušačka gimnazija</text></g>
<g id="n227" transform="translate(986.7 1333)"><circle class="s" r="2"/><text class="r">Radićeva</text></g>
<g id="n228" transform="translate(1004.3 1315.3)"><circle class="s" r="2"/><text class="r">Park heroja</text></g>
<g id="n229" transform="translate(995.3 1306.7)"><circle class="s" r="2"/><text class="dl">Joakima Rakovca jug</text></g>
<g id="n230" transform="translate(937.7 1306.7)"><circle class="s" r="2"/><text class="dl">Joakima Rakovca sjever</text></g>
<g id="n231" transform="translate(1031 1306.7)"><circle class="s" r="2"/><text class="ur">Krimeja</text></g>
<g id="n232" transform="translate(1057.7 1306.7)"><circle class="s" r="2"/><text class="ur">Nova Rečka</text></g>
<g id="n233" transform="translate(1084.3 1306.7)"><circle class="s" r="2"/><text class="ur">Pazdanjerbara</text></g>
<g id="n234" transform="translate(1113.3 1306.7)"><rect class="p" x="-4.3" y="-2.2" width="8.6" height="4.4" rx="2.2"/><text class="ur" x="1">Donja Vežica škola</text></g>
<g id="n235" transform="translate(1071 1226.7)"><circle class="s" r="2"/><text class="ur">Dom zdravlja Vežica</text></g>
<g id="n236" transform="translate(1031 1133.3)"><circle class="s" r="2"/><text class="ur">Astronomski centar</text></g>
<g id="n237" transform="translate(1053.3 1133.3)"><circle class="s" r="2"/><text class="ur">Radna Petrovčica - tipitana</text></g>
<g id="n238" transform="translate(1075.7 1133.3)"><circle class="s" r="2"/><text class="ur">Sv. Križ - Vojnička</text></g>
<g id="n239" transform="translate(1133.3 1133.3)"><circle class="s" r="2"/><text class="ur">Radna kuća Vežica jug</text></g>
<g id="n240" transform="translate(1137.7 1160)"><circle class="s" r="2"/><text class="ur">Volić Mrečić</text></g>
<g id="n241" transform="translate(1133.3 1182)"><circle class="s" r="2"/><text class="r">Zdravka Kučića istok</text></g>
<g id="n242" transform="translate(1026.7 1164.3)"><circle class="s" r="2"/><text class="l">Martti</text></g>
<g id="n243" transform="translate(1026.7 1182)"><circle class="s" r="2"/><text class="l">Ivana Matrijana</text></g>
<g id="n244" transform="translate(1053.3 1195.3)"><circle class="s" r="2"/><text class="l">Brdo</text></g>
<g id="n245" transform="translate(1053.3 1208.7)"><circle class="s" r="2"/><text class="l">Tuhobić</text></g>
<g id="n246" transform="translate(1053.3 1222.3)"><circle class="s" r="2"/><text class="ur">Vile Gabrovatka</text></g>
<g id="n247" transform="translate(1053.3 1266.7)"><circle class="s" r="2"/><text class="r">Tihovac</text></g>
<g id="n248" transform="translate(1040 1280)"><circle class="s" r="2"/><text class="r">Sesa</text></g>
<g id="n249" transform="translate(1115.7 1093.3)"><circle class="w" r="2"/><text class="ur">Gornja Vežica</text></g>
<g id="n250" transform="translate(1115.7 1106.7)"><circle class="s" r="2"/><text class="ur">Radna kuća Vežica sjever</text></g>
<g id="n251" transform="translate(1115.7 1120)"><circle class="s" r="2"/><text class="ur">Sv. Ana</text></g>
<g id="n252" transform="translate(1115.7 1146.7)"><circle class="s" r="2"/><text class="l">Zdravka Kučića sjever</text></g>
<g id="n253" transform="translate(1115.7 1160)"><circle class="s" r="2"/><text class="l">Ankora</text></g>
<g id="n254" transform="translate(1115.7 1173.3)"><circle class="s" r="2"/><text class="l">Zdravka Kučića jug</text></g>
<g id="n255" transform="translate(1115.7 1195.3)"><circle class="s" r="2"/><text class="r">Park za pse</text></g>
<g id="n256" transform="translate(1115.7 1208.7)"><circle class="s" r="2"/><text class="r">Donja Vežica</text></g>
<g id="n257" transform="translate(1115.7 1222)"><circle class="s" r="2"/><text class="r">Podvežica</text></g>
</svg>
